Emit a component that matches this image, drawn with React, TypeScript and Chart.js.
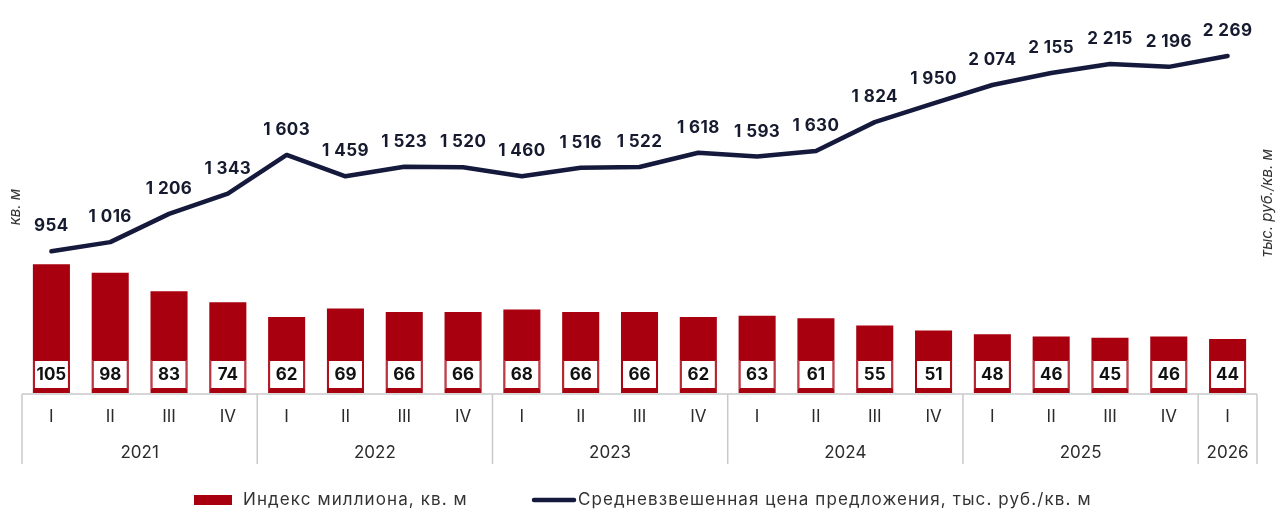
// Индекс миллиона и средневзвешенная цена предложения
import { useEffect, useRef } from 'react';
import { Chart, registerables } from 'chart.js';

Chart.register(...registerables);

const quarterLabels = ['I', 'II', 'III', 'IV', 'I', 'II', 'III', 'IV', 'I', 'II', 'III', 'IV', 'I', 'II', 'III', 'IV', 'I', 'II', 'III', 'IV', 'I'];
const yearLabels = ['2021', '2021', '2021', '2021', '2022', '2022', '2022', '2022', '2023', '2023', '2023', '2023', '2024', '2024', '2024', '2024', '2025', '2025', '2025', '2025', '2026'];
const millionIndex = [105, 98, 83, 74, 62, 69, 66, 66, 68, 66, 66, 62, 63, 61, 55, 51, 48, 46, 45, 46, 44];
const avgPrice = [954, 1016, 1206, 1343, 1603, 1459, 1523, 1520, 1460, 1516, 1522, 1618, 1593, 1630, 1824, 1950, 2074, 2155, 2215, 2196, 2269];

const barLegend = 'Индекс миллиона, кв. м';
const lineLegend = 'Средневзвешенная цена предложения, тыс. руб./кв. м';
const leftTitle = 'кв. м';
const rightTitle = 'тыс. руб./кв. м';

const RED = '#a8000f';
const NAVY = '#151a3d';
const FONT = 'Inter, "Noto Sans", sans-serif';

function fmt(n: number) {
  const s = String(n);
  return s.length > 3 ? s.slice(0, s.length - 3) + ' ' + s.slice(-3) : s;
}

const decorPlugin = {
  id: 'decor',
  afterDatasetsDraw(chart: any) {
    const ctx = chart.ctx as CanvasRenderingContext2D & { letterSpacing?: string };
    const area = chart.chartArea;
    const xScale = chart.scales.x;
    const step = xScale.getPixelForValue(1) - xScale.getPixelForValue(0);

    ctx.save();

    // labels inside bars
    const barMeta = chart.getDatasetMeta(0);
    barMeta.data.forEach((bar: any, i: number) => {
      const w = bar.width;
      const left = bar.x - w / 2;
      const bottom = bar.base;
      ctx.fillStyle = '#fff';
      ctx.fillRect(left + 1, bottom - 33, w - 2, 29);
      ctx.strokeStyle = RED;
      ctx.lineWidth = 1;
      ctx.strokeRect(left + 1.5, bottom - 32.5, w - 3, 28);
      ctx.fillStyle = '#111';
      ctx.font = `700 17px ${FONT}`;
      ctx.textAlign = 'center';
      ctx.textBaseline = 'middle';
      ctx.fillText(String(millionIndex[i]), bar.x, bottom - 18);
    });

    // labels over the line
    const lineMeta = chart.getDatasetMeta(1);
    ctx.letterSpacing = '0.4px';
    lineMeta.data.forEach((pt: any, i: number) => {
      ctx.fillStyle = '#161a2e';
      ctx.font = `700 17px ${FONT}`;
      ctx.textAlign = 'center';
      ctx.textBaseline = 'middle';
      ctx.fillText(fmt(avgPrice[i]), pt.x, pt.y - 25);
    });
    ctx.letterSpacing = '0px';

    // category axis box
    const top = area.bottom + 1;
    const bottomY = top + 70;
    ctx.strokeStyle = '#c9c9c9';
    ctx.lineWidth = 1.5;
    ctx.beginPath();
    ctx.moveTo(area.left, top);
    ctx.lineTo(area.right, top);
    ctx.stroke();

    ctx.fillStyle = '#2b2b2b';
    ctx.font = `400 17px ${FONT}`;
    ctx.textAlign = 'center';
    ctx.textBaseline = 'middle';
    quarterLabels.forEach((q, i) => {
      ctx.fillText(q, xScale.getPixelForValue(i), top + 23);
    });

    let start = 0;
    const bounds: number[] = [xScale.getPixelForValue(0) - step / 2];
    for (let i = 1; i <= yearLabels.length; i++) {
      if (i === yearLabels.length || yearLabels[i] !== yearLabels[start]) {
        const x0 = xScale.getPixelForValue(start) - step / 2;
        const x1 = xScale.getPixelForValue(i - 1) + step / 2;
        ctx.fillText(yearLabels[start], (x0 + x1) / 2, top + 59);
        bounds.push(x1);
        start = i;
      }
    }
    ctx.beginPath();
    bounds.forEach((x) => {
      ctx.moveTo(x, top);
      ctx.lineTo(x, bottomY);
    });
    ctx.stroke();

    // side titles
    ctx.fillStyle = '#333';
    ctx.font = `italic 400 15px ${FONT}`;
    ctx.save();
    ctx.translate(15, 207);
    ctx.rotate(-Math.PI / 2);
    ctx.fillText(leftTitle, 0, 0);
    ctx.restore();
    ctx.save();
    ctx.translate(1267, 203);
    ctx.rotate(-Math.PI / 2);
    ctx.fillText(rightTitle, 0, 0);
    ctx.restore();

    // legend
    const ly = 500;
    ctx.fillStyle = RED;
    ctx.fillRect(194, ly - 5, 38, 10);
    ctx.strokeStyle = NAVY;
    ctx.lineWidth = 4.5;
    ctx.lineCap = 'round';
    ctx.beginPath();
    ctx.moveTo(534, ly);
    ctx.lineTo(574, ly);
    ctx.stroke();
    ctx.fillStyle = '#333';
    ctx.font = `400 17px ${FONT}`;
    ctx.letterSpacing = '1.1px';
    ctx.textAlign = 'left';
    ctx.fillText(barLegend, 243, ly);
    ctx.fillText(lineLegend, 578, ly);
    ctx.letterSpacing = '0px';

    ctx.restore();
  },
};

export default function App() {
  const canvasRef = useRef<HTMLCanvasElement>(null);
  const chartRef = useRef<Chart | null>(null);

  useEffect(() => {
    if (!canvasRef.current) return;
    if (chartRef.current) chartRef.current.destroy();

    chartRef.current = new Chart(canvasRef.current, {
      type: 'bar',
      data: {
        labels: quarterLabels.map((q, i) => `${q} ${yearLabels[i]}`),
        datasets: [
          {
            type: 'bar',
            label: barLegend,
            data: millionIndex,
            backgroundColor: RED,
            categoryPercentage: 0.63,
            barPercentage: 1,
            yAxisID: 'y',
            order: 2,
          },
          {
            type: 'line',
            label: lineLegend,
            data: avgPrice,
            borderColor: NAVY,
            borderWidth: 4.5,
            borderCapStyle: 'round',
            borderJoinStyle: 'round',
            pointRadius: 0,
            tension: 0,
            yAxisID: 'y1',
            order: 1,
          } as any,
        ],
      },
      options: {
        responsive: true,
        maintainAspectRatio: false,
        animation: false,
        layout: { padding: { left: 22, right: 23, top: 3, bottom: 135 } },
        plugins: {
          legend: { display: false },
          tooltip: { enabled: false },
        },
        scales: {
          x: { display: false },
          y: { display: false, min: 0, max: 318 },
          y1: { display: false, min: 0, max: 2626, position: 'right' },
        },
      },
      plugins: [decorPlugin],
    });

    return () => {
      if (chartRef.current) {
        chartRef.current.destroy();
        chartRef.current = null;
      }
    };
  }, []);

  return (
    <div style={{ position: 'fixed', left: 0, top: 0, width: 1280, height: 528, background: '#fff' }}>
      <canvas ref={canvasRef}></canvas>
    </div>
  );
}
